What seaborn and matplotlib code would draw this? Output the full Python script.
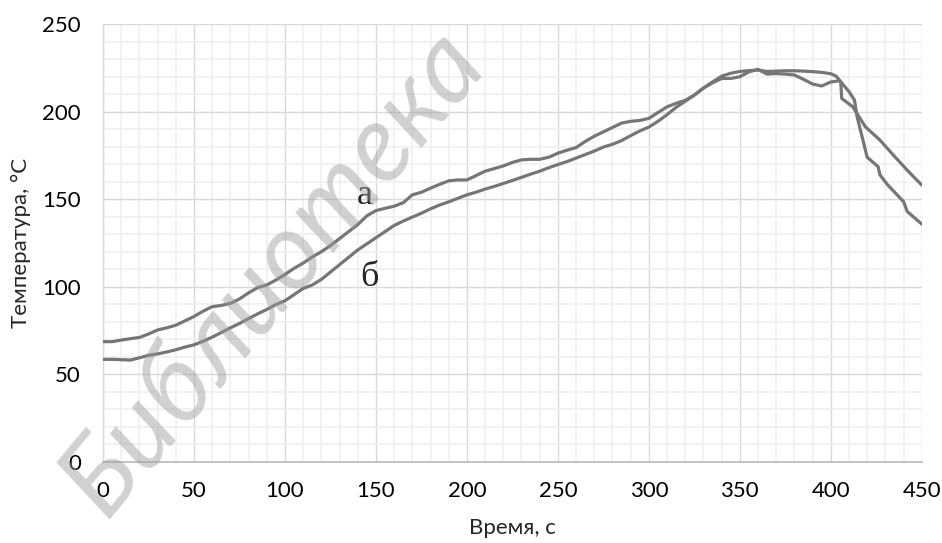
import pandas as pd
import seaborn as sns
import matplotlib.pyplot as plt
from matplotlib.ticker import MultipleLocator

# curve "а" (upper at start)
time_a = list(range(0, 410, 5)) + [410, 413, 414.5, 420, 426, 427, 431, 440, 442, 450]
temp_a = [68.6, 68.6, 69.5, 70.3, 71.0, 73.0, 75.3, 76.5, 78.0, 80.5,
          83.0, 86.0, 88.6, 89.3, 90.5, 93.0, 96.5, 99.5, 101.0, 103.8,
          107.0, 110.5, 113.5, 117.0, 120.0, 123.5, 127.5, 131.5, 135.5, 140.5,
          143.5, 144.8, 146.0, 148.0, 152.5, 154.0, 156.3, 158.5, 160.5, 161.0,
          161.0, 163.5, 166.0, 167.5, 169.0, 171.0, 172.5, 172.8, 172.8, 174.0,
          176.3, 178.0, 179.5, 183.0, 186.0, 188.5, 191.0, 193.5, 194.5, 195.0,
          196.2, 199.5, 202.8, 204.8, 206.5, 209.5, 213.5, 216.5, 219.0, 219.0,
          220.0, 222.8, 224.2, 221.5, 221.8, 221.5, 221.0, 218.5, 215.8, 214.7,
          217.0, 217.7,
          211.5, 206.7, 197.0, 174.0, 168.6, 164.0, 158.5, 148.6, 143.0, 135.8]

# curve "б" (lower at start)
time_b = list(range(0, 405, 5)) + [403, 405.5, 406, 412, 419, 427, 435, 443, 450]
temp_b = [58.5, 58.5, 58.3, 58.1, 59.4, 60.8, 61.6, 62.7, 64.0, 65.5,
          66.8, 68.8, 71.2, 73.8, 76.5, 79.0, 81.8, 84.5, 87.0, 89.8,
          92.0, 95.5, 99.0, 101.0, 104.2, 108.4, 112.6, 116.8, 121.0, 124.5,
          128.0, 131.5, 135.0, 137.5, 139.8, 142.0, 144.5, 146.7, 148.5, 150.5,
          152.5, 154.0, 155.8, 157.3, 159.0, 160.7, 162.5, 164.3, 166.0, 168.0,
          169.8, 171.5, 173.5, 175.5, 177.5, 179.8, 181.4, 183.5, 186.3, 189.0,
          191.2, 194.5, 198.3, 202.5, 206.0, 209.5, 213.5, 217.0, 220.3, 222.0,
          223.0, 223.5, 223.8, 223.0, 223.2, 223.4, 223.4, 223.2, 222.9, 222.5,
          221.7,
          220.3, 217.0, 207.6, 202.9, 191.4, 183.8, 174.5, 165.5, 158.1]

df = pd.concat([
    pd.DataFrame({"time": time_a, "temp": temp_a, "curve": "а"}),
    pd.DataFrame({"time": time_b, "temp": temp_b, "curve": "б"}),
])

sns.set_theme(style="white")
plt.rcParams["font.family"] = ["Lato", "DejaVu Sans"]

fig = plt.figure(figsize=(9.42, 5.43), dpi=100)
ax = fig.add_axes([0.1094, 0.1497, 0.8691, 0.8057])

sns.lineplot(data=df, x="time", y="temp", hue="curve", units="curve",
             estimator=None, sort=False, palette=["#767676", "#767676"],
             linewidth=2.3, legend=False, ax=ax, zorder=3)

ax.set_xlim(0, 450)
ax.set_ylim(0, 250)
ax.xaxis.set_major_locator(MultipleLocator(50))
ax.yaxis.set_major_locator(MultipleLocator(50))
ax.xaxis.set_minor_locator(MultipleLocator(10))
ax.yaxis.set_minor_locator(MultipleLocator(10))
ax.grid(which="major", color="#d9d9d9", linewidth=1.0, zorder=1)
ax.grid(which="minor", color="#f0f0f0", linewidth=1.2, zorder=0)
ax.set_axisbelow(True)
ax.tick_params(which="both", length=0, labelsize=16, colors="#000000")
ax.tick_params(axis="x", pad=14)
ax.tick_params(axis="y", pad=16)
for side in ["top", "right"]:
    ax.spines[side].set_visible(False)
ax.spines["left"].set_color("#d9d9d9")
ax.spines["bottom"].set_color("#bfbfbf")
ax.spines["left"].set_linewidth(1.0)
ax.spines["bottom"].set_linewidth(1.3)

ax.set_xlabel("Время, с", fontsize=16, labelpad=12)
ax.set_ylabel("Температура, °С", fontsize=16, labelpad=8)

ax.text(143.8, 152.4, "а", fontsize=26, family="Liberation Serif",
        ha="center", va="center")
ax.text(146.5, 105, "б", fontsize=26, family="Liberation Serif",
        ha="center", va="center")

# watermark, kept inside the figure
fig.text(0.29, 0.5, "Библиотека", fontsize=78, style="italic",
         color="#9a9a9a", alpha=0.45, rotation=50, ha="center", va="center",
         zorder=10)

fig.savefig("out.png", dpi=100)
